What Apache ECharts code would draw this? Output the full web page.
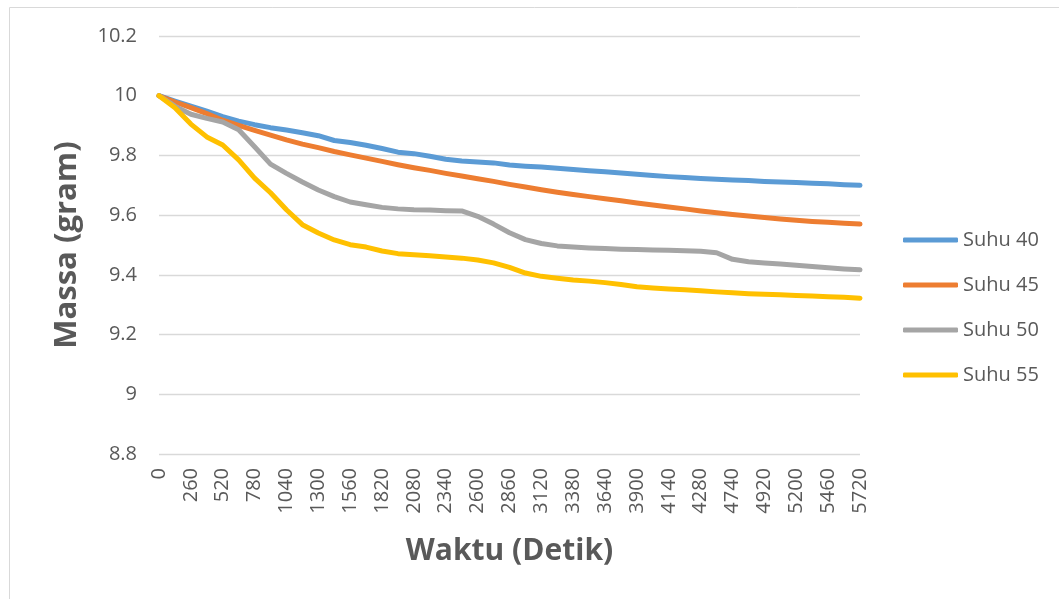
<!DOCTYPE html>
<html>
<head>
<meta charset="utf-8">
<script src="https://cdn.jsdelivr.net/npm/echarts@6/dist/echarts.min.js"></script>
<style>html,body{margin:0;padding:0;background:#fff;}#chart{width:1059px;height:599px;}</style>
</head>
<body>
<div id="chart"></div>
<script>
// Time categories (seconds); labelled ones are every other entry
const categories = [
  0,130,260,390,520,650,780,910,1040,1170,1300,1430,1560,1690,1820,1950,2080,2210,2340,2470,
  2600,2730,2860,2990,3120,3250,3380,3510,3640,3770,3900,4020,4140,4210,4280,4510,4740,4830,
  4920,5060,5200,5330,5460,5590,5720
];
const seriesNames = ['Suhu 40','Suhu 45','Suhu 50','Suhu 55'];
const yTitle = 'Massa (gram)';
const xTitle = 'Waktu (Detik)';
const suhu40 = [
  10.000,9.982,9.965,9.948,9.930,9.915,9.903,9.893,9.885,9.876,9.866,9.850,9.843,9.834,9.823,
  9.811,9.806,9.797,9.787,9.781,9.778,9.775,9.768,9.764,9.761,9.757,9.753,9.749,9.745,9.741,
  9.737,9.733,9.729,9.726,9.723,9.720,9.718,9.716,9.713,9.711,9.709,9.707,9.705,9.702,9.700
];
const suhu45 = [
  10.000,9.979,9.960,9.940,9.918,9.901,9.884,9.868,9.852,9.838,9.826,9.813,9.802,9.791,9.780,
  9.769,9.759,9.750,9.740,9.731,9.722,9.713,9.703,9.694,9.685,9.677,9.669,9.662,9.655,9.648,
  9.641,9.634,9.627,9.621,9.614,9.608,9.602,9.597,9.592,9.587,9.583,9.579,9.576,9.573,9.570
];
const suhu50 = [
  10.000,9.965,9.938,9.924,9.912,9.886,9.829,9.771,9.740,9.711,9.684,9.662,9.644,9.635,9.626,
  9.621,9.618,9.617,9.615,9.614,9.596,9.570,9.541,9.518,9.505,9.497,9.493,9.490,9.488,9.486,
  9.485,9.483,9.482,9.481,9.479,9.474,9.452,9.444,9.440,9.436,9.432,9.428,9.424,9.420,9.417
];
const suhu55 = [
  10.000,9.960,9.905,9.862,9.835,9.785,9.724,9.675,9.618,9.568,9.540,9.517,9.501,9.493,9.480,
  9.471,9.467,9.464,9.460,9.456,9.450,9.440,9.425,9.406,9.395,9.389,9.383,9.379,9.374,9.368,
  9.360,9.356,9.353,9.350,9.347,9.343,9.340,9.337,9.335,9.333,9.331,9.329,9.327,9.325,9.322
];
const colors = ['#5B9BD5','#ED7D31','#A5A5A5','#FFC000'];
const allData = [suhu40, suhu45, suhu50, suhu55];

const FONT = '"Open Sans", "Noto Sans", sans-serif';
const chart = echarts.init(document.getElementById('chart'), null, {renderer: 'canvas'});
chart.setOption({
  animation: false,
  color: colors,
  graphic: [{
    type: 'rect', silent: true,
    shape: {x: 9.5, y: 7.5, width: 1200, height: 800},
    style: {fill: 'none', stroke: '#D9D9D9', lineWidth: 1}
  }, {
    type: 'text', silent: true, x: 67, y: 245, rotation: Math.PI / 2,
    style: {text: yTitle, fill: '#595959', font: 'bold 31px ' + FONT,
      align: 'center', verticalAlign: 'middle'}
  }],
  grid: {left: 159, right: 199, top: 36, bottom: 145, containLabel: false},
  legend: {
    orient: 'vertical', left: 898, top: 225,
    icon: 'roundRect', itemWidth: 55, itemHeight: 5, itemGap: 25,
    textStyle: {color: '#595959', fontSize: 20, fontFamily: FONT, lineHeight: 20},
    data: seriesNames
  },
  xAxis: {
    type: 'category', data: categories, boundaryGap: false,
    name: xTitle, nameLocation: 'middle', nameGap: 82,
    nameTextStyle: {color: '#595959', fontSize: 30, fontWeight: 'bold', fontFamily: FONT},
    axisLine: {show: false}, axisTick: {show: false},
    axisLabel: {interval: 1, rotate: 90, margin: 14, color: '#595959', fontSize: 20, fontFamily: FONT}
  },
  yAxis: {
    type: 'value', min: 8.8, max: 10.2, interval: 0.2,
    axisLine: {show: false}, axisTick: {show: false},
    splitLine: {lineStyle: {color: '#D9D9D9', width: 1.3}},
    axisLabel: {margin: 22, color: '#595959', fontSize: 20, fontFamily: FONT,
      formatter: v => String(parseFloat(v.toFixed(1)))}
  },
  series: seriesNames.map((n, i) => ({
    name: n, type: 'line', data: allData[i], symbol: 'none', smooth: false,
    lineStyle: {width: 5, color: colors[i], cap: 'round', join: 'round'},
    itemStyle: {color: colors[i]}
  }))
});
</script>
</body>
</html>
